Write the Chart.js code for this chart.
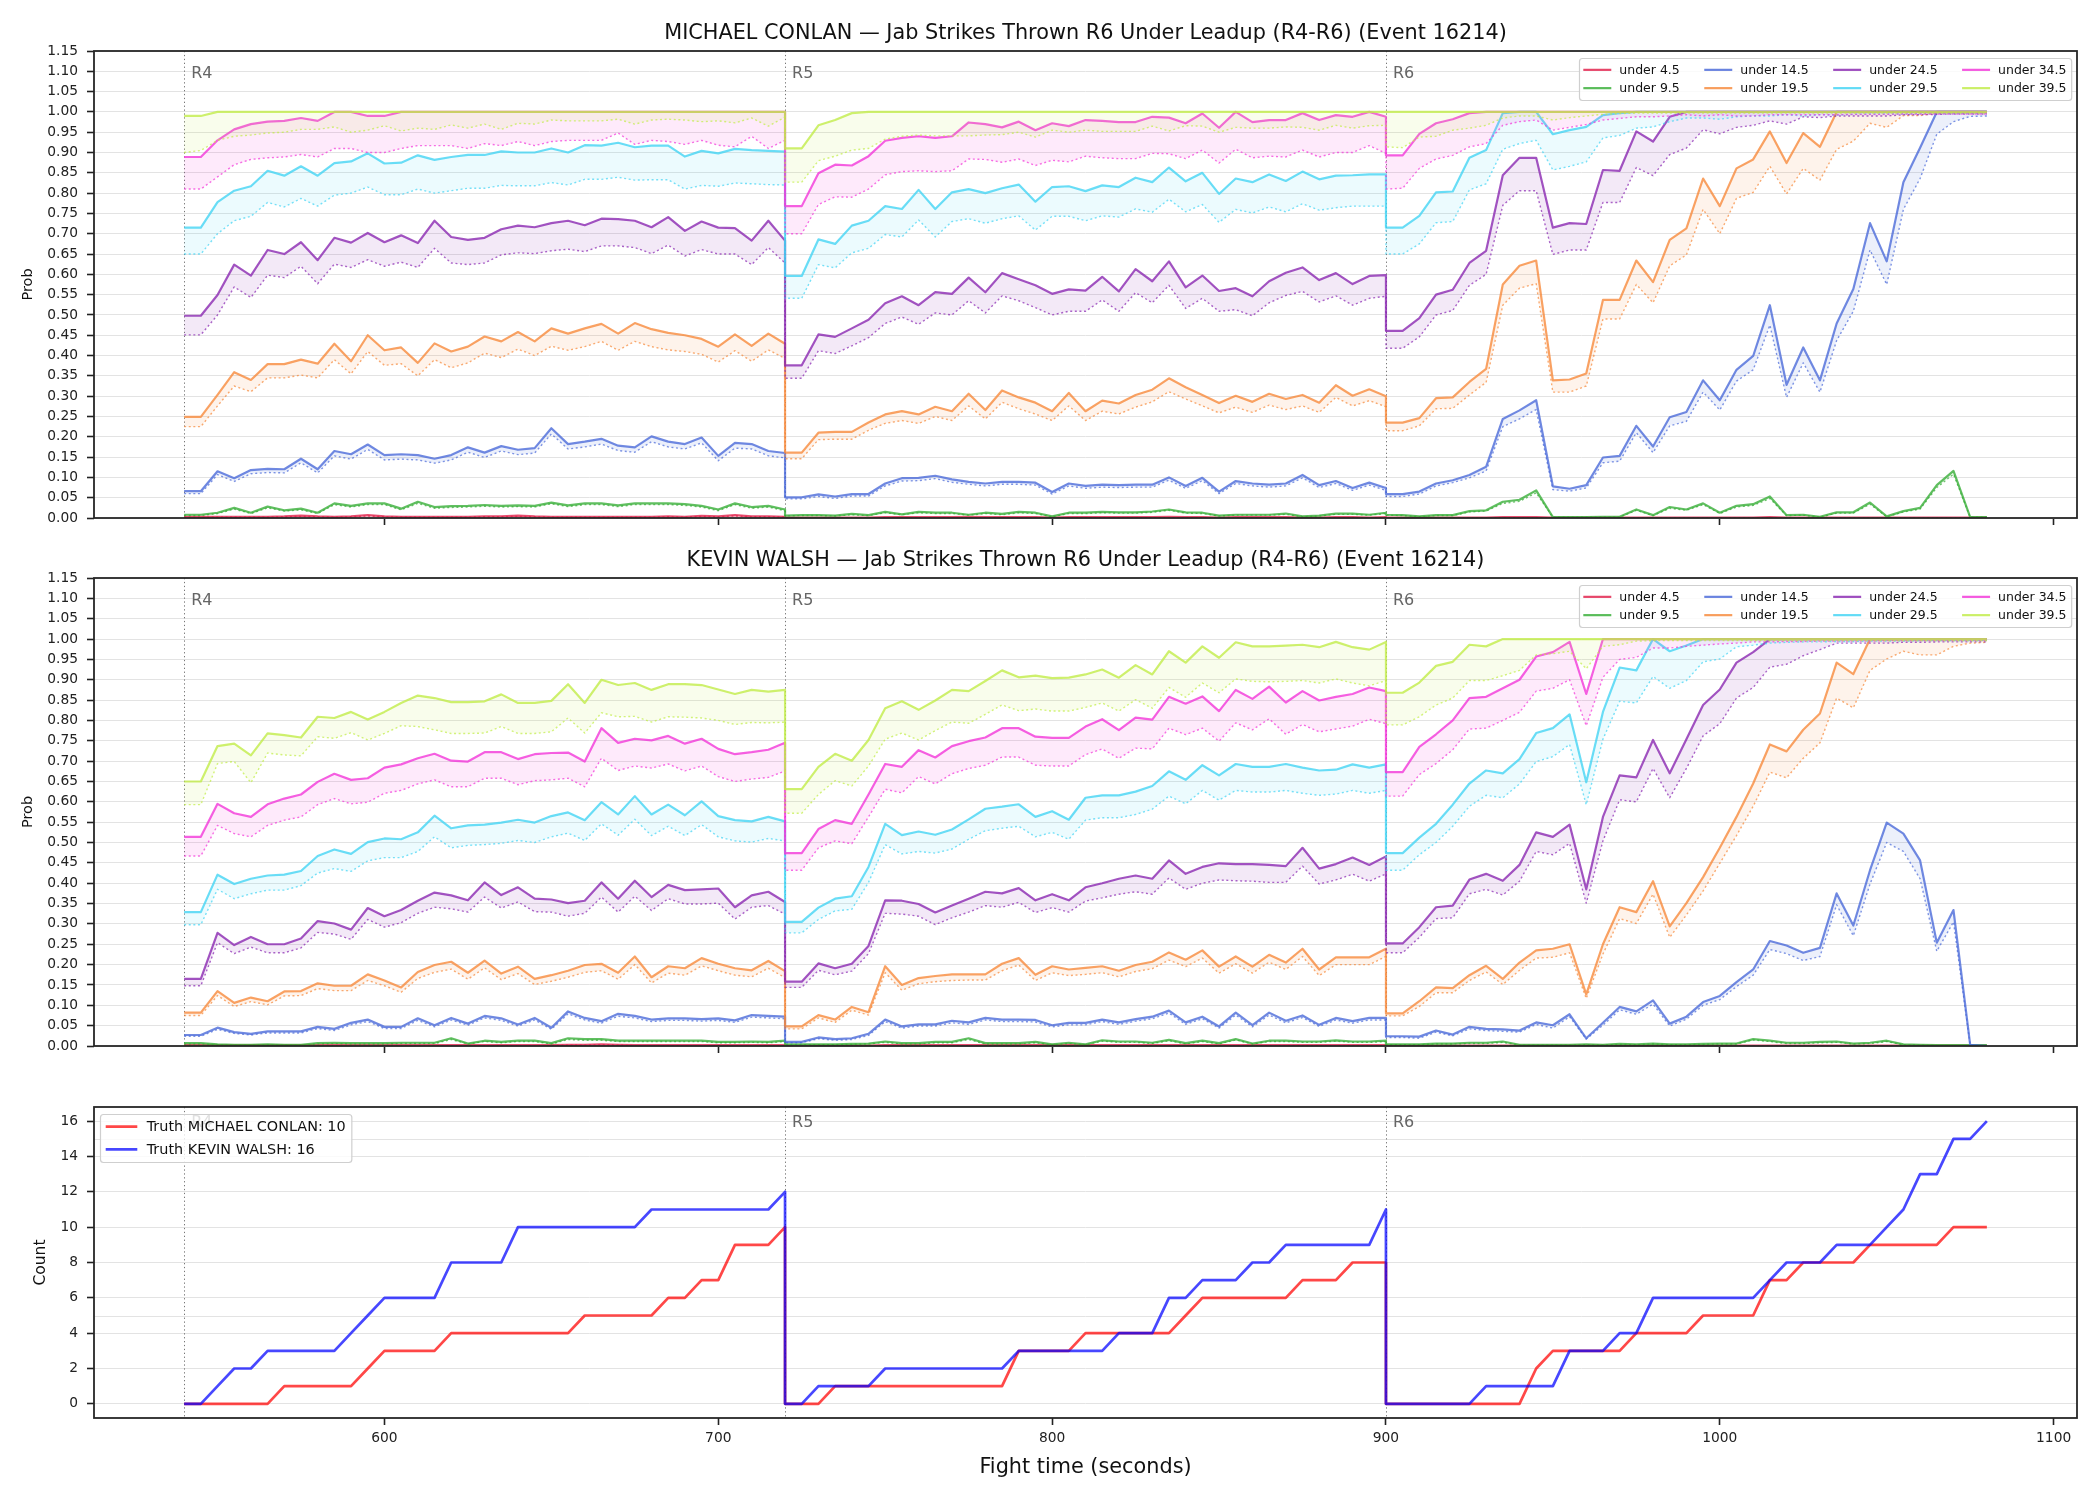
<!DOCTYPE html>
<html>
<head>
<meta charset="utf-8">
<script src="https://cdn.jsdelivr.net/npm/chart.js@4.4.1/dist/chart.umd.min.js"></script>
<style>
  html, body { margin: 0; padding: 0; background: #fff; }
  #wrap { position: relative; width: 2100px; height: 1500px; }
  canvas { position: absolute; left: 0; }
</style>
</head>
<body>
<div id="wrap">
  <canvas id="mcChart" width="2100" height="540" style="top:0px"></canvas>
  <canvas id="kwChart" width="2100" height="530" style="top:540px"></canvas>
  <canvas id="countChart" width="2100" height="430" style="top:1070px"></canvas>
</div>
<script>
// ---- data ----
const fighters = ['MICHAEL CONLAN', 'KEVIN WALSH'];
const market = 'Jab Strikes Thrown R6 Under Leadup (R4-R6) (Event 16214)';
const roundStarts = [540, 720, 900];
const roundNames = ['R4', 'R5', 'R6'];
const sampleOffsets = [0, 5, 10, 15, 20, 25, 30, 35, 40, 45, 50, 55, 60, 65, 70, 75, 80, 85, 90, 95, 100,
  105, 110, 115, 120, 125, 130, 135, 140, 145, 150, 155, 160, 165, 170, 175, 180];
const thresholds = ['under 4.5', 'under 9.5', 'under 14.5', 'under 19.5', 'under 24.5', 'under 29.5', 'under 34.5', 'under 39.5'];
const thresholdColors = ['#e11d48', '#34ad34', '#4868d8', '#f78838', '#8824b0', '#40d3f4', '#f233d8', '#c0ec45'];

const xTicks = [600, 700, 800, 900, 1000, 1100];
const probTicks = [0, 0.05, 0.1, 0.15, 0.2, 0.25, 0.3, 0.35, 0.4, 0.45, 0.5, 0.55, 0.6, 0.65, 0.7, 0.75, 0.8, 0.85, 0.9, 0.95, 1, 1.05, 1.1, 1.15];
const countTicks = [0, 2, 4, 6, 8, 10, 12, 14, 16];
const countGuides = [5, 15];

// MICHAEL CONLAN: probability (solid) and lower band (dotted), rounds R4 / R5 / R6
const mcU4 = [
  .003,.003,.003,.003,.003,.003,.004,.006,.004,.003,.004,.007,.004,.003,.003,.003,.003,.003,.004,.004,.006,.004,.003,.003,.003,.003,.003,.003,.003,.004,.003,.005,.004,.007,.004,.004,.003,
  .001,.001,.001,.001,.001,.001,.002,.002,.002,.002,.002,.003,.002,.002,.002,.002,.001,.002,.002,.002,.002,.002,.002,.003,.002,.002,.001,.002,.002,.002,.002,.001,.001,.002,.002,.001,.002,
  .001,.001,.001,.001,.001,.001,.001,.002,.002,.002,.001,.001,.001,.001,.001,.001,.001,.001,.001,.001,.001,.001,.001,.002,.001,.001,.001,.001,.001,.001,.001,.001,.001,.001,.001,.001,.001];
const mcU4lo = [
  .002,.002,.002,.002,.002,.002,.003,.004,.003,.002,.003,.005,.003,.002,.002,.002,.002,.002,.003,.003,.004,.003,.002,.002,.002,.002,.002,.002,.002,.003,.002,.004,.003,.005,.003,.003,.002,
  .001,.001,.001,.001,.001,.001,.001,.001,.001,.001,.001,.001,.001,.001,.001,.001,.001,.001,.001,.001,.001,.001,.001,.001,.001,.001,.001,.001,.001,.001,.001,.001,.001,.001,.001,.001,.001,
  .001,.001,.001,.001,.001,.001,.001,.001,.001,.001,.001,.001,.001,.001,.001,.001,.001,.001,.001,.001,.001,.001,.001,.001,.001,.001,.001,.001,.001,.001,.001,.001,.001,.001,.001,.001,.001];
const mcU9 = [
  .008,.008,.013,.025,.013,.028,.019,.023,.013,.036,.030,.036,.036,.023,.040,.027,.029,.030,.032,.030,.031,.030,.038,.031,.036,.036,.031,.036,.036,.036,.034,.030,.021,.036,.027,.030,.021,
  .006,.007,.007,.006,.010,.007,.015,.009,.015,.013,.013,.008,.013,.010,.015,.013,.004,.013,.013,.015,.014,.014,.016,.021,.014,.013,.006,.008,.008,.008,.011,.004,.006,.011,.011,.008,.013,
  .008,.007,.004,.007,.007,.017,.019,.040,.045,.068,.002,.002,.002,.003,.003,.021,.007,.027,.021,.036,.013,.030,.034,.053,.007,.008,.003,.014,.014,.038,.004,.017,.025,.081,.116,.002,.002];
const mcU9lo = [
  .006,.006,.011,.022,.011,.025,.017,.020,.011,.033,.027,.033,.033,.020,.036,.024,.026,.027,.029,.027,.028,.027,.035,.028,.033,.033,.028,.033,.033,.033,.031,.027,.018,.033,.024,.027,.018,
  .005,.006,.006,.005,.008,.006,.013,.008,.013,.011,.011,.007,.011,.008,.013,.011,.003,.011,.011,.013,.012,.012,.014,.019,.012,.011,.005,.007,.007,.007,.009,.003,.005,.009,.009,.007,.011,
  .007,.006,.003,.006,.006,.015,.017,.036,.041,.062,.002,.002,.002,.002,.002,.019,.006,.024,.019,.033,.011,.027,.031,.048,.006,.007,.002,.012,.012,.034,.003,.015,.022,.075,.108,.002,.002];
const mcU14 = [
  .066,.066,.115,.098,.118,.121,.120,.146,.120,.165,.157,.181,.155,.157,.155,.146,.155,.174,.161,.177,.168,.172,.221,.182,.188,.195,.178,.174,.201,.188,.182,.198,.153,.185,.182,.165,.160,
  .051,.051,.058,.053,.059,.059,.085,.098,.099,.104,.095,.089,.085,.089,.089,.087,.064,.085,.079,.082,.081,.082,.082,.100,.079,.099,.065,.091,.085,.082,.085,.106,.081,.091,.074,.087,.074,
  .059,.059,.065,.085,.093,.106,.126,.244,.265,.290,.078,.072,.081,.149,.153,.227,.176,.248,.261,.339,.290,.365,.399,.524,.328,.420,.339,.479,.564,.726,.632,.827,.912,1,1,1,1];
const mcU14lo = [
  .060,.060,.107,.090,.109,.112,.111,.136,.111,.153,.145,.169,.143,.145,.143,.135,.143,.162,.149,.165,.156,.160,.207,.170,.175,.182,.166,.162,.188,.175,.170,.185,.141,.172,.170,.153,.148,
  .047,.047,.053,.048,.054,.054,.079,.091,.092,.097,.088,.083,.079,.083,.083,.081,.059,.079,.073,.076,.075,.076,.076,.093,.073,.092,.060,.085,.079,.076,.079,.099,.075,.085,.068,.081,.068,
  .053,.053,.059,.079,.087,.099,.116,.225,.244,.267,.070,.066,.074,.136,.140,.210,.161,.227,.238,.310,.266,.337,.365,.475,.297,.382,.310,.437,.509,.660,.575,.760,.836,.945,.976,.989,.990];
const mcU19 = [
  .249,.249,.303,.359,.340,.379,.379,.390,.380,.429,.386,.450,.413,.420,.382,.430,.410,.422,.447,.435,.458,.435,.467,.454,.467,.478,.454,.480,.465,.456,.450,.441,.422,.452,.424,.454,.429,
  .161,.161,.210,.212,.212,.235,.255,.263,.255,.274,.263,.306,.266,.314,.297,.284,.263,.308,.263,.289,.282,.303,.316,.344,.322,.303,.283,.301,.286,.306,.293,.303,.284,.327,.301,.317,.300,
  .235,.235,.246,.295,.297,.335,.367,.575,.621,.634,.339,.341,.356,.537,.537,.634,.581,.685,.713,.836,.768,.861,.883,.952,.874,.948,.914,1,1,1,1,1,1,1,1,1,1];
const mcU19lo = [
  .225,.225,.276,.325,.311,.345,.345,.352,.345,.390,.355,.410,.376,.380,.350,.390,.370,.382,.406,.395,.416,.400,.423,.413,.422,.435,.413,.435,.422,.414,.410,.403,.384,.412,.386,.414,.393,
  .146,.146,.193,.194,.194,.216,.233,.240,.233,.250,.240,.276,.244,.285,.269,.256,.240,.276,.240,.263,.256,.273,.286,.311,.293,.276,.259,.273,.260,.278,.267,.276,.260,.297,.276,.289,.274,
  .215,.215,.227,.269,.270,.303,.334,.524,.566,.577,.310,.310,.325,.490,.490,.575,.530,.621,.648,.760,.700,.787,.802,.866,.798,.861,.832,.908,.928,.972,.962,.991,.991,.997,.998,.998,.998];
const mcU24 = [
  .498,.498,.549,.624,.597,.660,.650,.679,.635,.690,.678,.702,.679,.696,.677,.732,.692,.685,.690,.711,.720,.716,.726,.732,.721,.737,.736,.732,.716,.741,.707,.730,.715,.714,.683,.732,.683,
  .376,.376,.452,.446,.467,.488,.529,.546,.524,.556,.552,.592,.556,.603,.588,.573,.552,.563,.560,.594,.558,.613,.583,.632,.568,.597,.559,.566,.546,.583,.604,.617,.586,.603,.576,.596,.598,
  .461,.461,.492,.550,.562,.628,.658,.844,.887,.887,.715,.726,.724,.857,.855,.952,.927,.988,1,1,1,1,1,1,1,1,1,1,1,1,1,1,1,1,1,1,1];
const mcU24lo = [
  .451,.451,.500,.569,.543,.598,.592,.620,.577,.625,.617,.636,.620,.630,.617,.664,.628,.624,.628,.648,.653,.651,.658,.662,.656,.670,.670,.666,.651,.672,.645,.661,.650,.650,.624,.666,.628,
  .344,.344,.412,.405,.424,.444,.479,.495,.477,.505,.500,.535,.505,.547,.535,.518,.500,.509,.509,.537,.509,.555,.530,.573,.516,.541,.509,.513,.498,.530,.548,.558,.532,.547,.524,.541,.546,
  .418,.418,.446,.500,.511,.573,.600,.770,.806,.806,.649,.660,.660,.777,.777,.863,.843,.895,.911,.956,.946,.962,.967,.978,.970,.988,.986,.990,.990,.990,.990,.993,.993,.994,.995,.995,.995];
const mcU29 = [
  .715,.715,.778,.806,.817,.855,.843,.866,.843,.874,.878,.898,.873,.875,.893,.882,.889,.894,.894,.903,.900,.900,.910,.900,.918,.917,.924,.913,.917,.917,.890,.904,.898,.909,.906,.904,.902,
  .596,.596,.686,.675,.720,.732,.768,.761,.808,.761,.802,.810,.800,.812,.821,.779,.815,.817,.805,.819,.815,.838,.827,.863,.829,.850,.798,.836,.827,.846,.830,.853,.834,.843,.844,.846,.846,
  .715,.715,.744,.802,.804,.887,.906,.997,1,1,.945,.955,.963,.992,.997,1,1,1,1,1,1,1,1,1,1,1,1,1,1,1,1,1,1,1,1,1,1];
const mcU29lo = [
  .650,.650,.700,.732,.743,.777,.766,.787,.768,.795,.800,.815,.796,.796,.810,.800,.806,.812,.812,.819,.818,.818,.826,.820,.834,.834,.839,.832,.833,.833,.810,.819,.817,.825,.823,.821,.820,
  .541,.541,.624,.616,.653,.664,.698,.692,.734,.692,.730,.737,.726,.737,.744,.709,.743,.743,.732,.744,.741,.761,.753,.785,.754,.772,.728,.760,.751,.766,.754,.774,.758,.764,.768,.768,.768,
  .650,.650,.675,.727,.730,.808,.823,.908,.922,.930,.857,.866,.877,.936,.942,.960,.963,.976,.985,.985,.982,.988,.990,.990,.993,.990,.993,.992,.994,.995,.995,.995,.996,.996,.996,.997,.997];
const mcU34 = [
  .889,.889,.930,.957,.970,.976,.978,.985,.978,1,1,.990,.990,1,1,1,1,1,1,1,1,1,1,1,1,1,1,1,1,1,1,1,1,1,1,1,1,
  .768,.768,.849,.870,.868,.891,.929,.936,.940,.936,.940,.974,.970,.962,.976,.955,.972,.965,.980,.978,.975,.975,.988,.986,.972,.996,.961,1,.975,.980,.980,.997,.980,.992,.988,1,.988,
  .893,.893,.946,.972,.982,.997,1,1,1,1,1,1,1,1,1,1,1,1,1,1,1,1,1,1,1,1,1,1,1,1,1,1,1,1,1,1,1];
const mcU34lo = [
  .810,.810,.840,.870,.883,.887,.889,.895,.889,.910,.910,.900,.900,.910,.917,.917,.917,.910,.922,.917,.927,.917,.927,.930,.930,.930,.948,.920,.930,.927,.920,.930,.918,.914,.940,.910,.930,
  .700,.700,.772,.791,.790,.810,.845,.853,.855,.853,.855,.884,.883,.876,.884,.868,.881,.877,.891,.887,.885,.885,.898,.897,.885,.906,.874,.908,.887,.891,.889,.906,.889,.900,.900,.917,.898,
  .810,.812,.861,.884,.893,.914,.922,.967,.976,.980,.955,.962,.969,.980,.984,.988,.988,.990,.993,.990,.993,.990,.990,.993,.993,.993,.993,.993,.994,.994,.994,.995,.995,.995,.995,.995,.995];
const mcU39 = [
  .990,.990,1,1,1,1,1,1,1,1,1,1,1,1,1,1,1,1,1,1,1,1,1,1,1,1,1,1,1,1,1,1,1,1,1,1,1,
  .910,.910,.967,.980,.997,1,1,1,1,1,1,1,1,1,1,1,1,1,1,1,1,1,1,1,1,1,1,1,1,1,1,1,1,1,1,1,1,
  1,1,1,1,1,1,1,1,1,1,1,1,1,1,1,1,1,1,1,1,1,1,1,1,1,1,1,1,1,1,1,1,1,1,1,1,1];
const mcU39lo = [
  .900,.905,.930,.940,.943,.948,.950,.957,.957,.963,.950,.955,.966,.953,.960,.957,.968,.960,.970,.957,.972,.970,.980,.978,.978,.978,.982,.970,.980,.982,.980,.976,.978,.973,.985,.965,.987,
  .827,.827,.880,.891,.906,.910,.933,.940,.943,.941,.941,.941,.943,.944,.950,.938,.955,.950,.955,.952,.952,.952,.965,.953,.966,.965,.950,.962,.960,.960,.963,.962,.955,.967,.960,.966,.967,
  .914,.912,.938,.940,.955,.960,.967,.985,.990,.990,.980,.986,.990,.994,.996,.997,.997,.997,.997,.997,.997,.997,.997,.997,.997,.997,.997,.997,.997,.997,.997,.997,.997,.997,.997,.997,.997];

// KEVIN WALSH
const kwU4 = [
  .002,.002,.002,.002,.002,.002,.002,.002,.002,.002,.002,.002,.002,.002,.002,.002,.002,.002,.002,.002,.002,.002,.002,.003,.003,.004,.003,.002,.002,.002,.002,.002,.002,.002,.002,.002,.002,
  .001,.001,.001,.001,.001,.001,.002,.002,.002,.002,.002,.002,.002,.002,.002,.002,.002,.002,.002,.002,.002,.002,.002,.002,.002,.002,.002,.002,.002,.002,.002,.002,.002,.002,.002,.002,.002,
  .001,.001,.001,.001,.001,.001,.001,.001,.001,.001,.001,.001,.001,.001,.001,.001,.001,.001,.001,.001,.001,.001,.001,.001,.001,.001,.001,.001,.001,.001,.001,.001,.001,.001,.001,.001,.001];
const kwU4lo = [
  .001,.001,.001,.001,.001,.001,.001,.001,.001,.001,.001,.001,.001,.001,.001,.001,.001,.001,.001,.001,.001,.001,.001,.002,.002,.003,.002,.001,.001,.001,.001,.001,.001,.001,.001,.001,.001,
  .001,.001,.001,.001,.001,.001,.001,.001,.001,.001,.001,.001,.001,.001,.001,.001,.001,.001,.001,.001,.001,.001,.001,.001,.001,.001,.001,.001,.001,.001,.001,.001,.001,.001,.001,.001,.001,
  .001,.001,.001,.001,.001,.001,.001,.001,.001,.001,.001,.001,.001,.001,.001,.001,.001,.001,.001,.001,.001,.001,.001,.001,.001,.001,.001,.001,.001,.001,.001,.001,.001,.001,.001,.001,.001];
const kwU9 = [
  .007,.007,.004,.003,.003,.004,.003,.003,.007,.008,.007,.007,.007,.008,.008,.008,.019,.006,.013,.010,.013,.013,.007,.019,.017,.017,.013,.013,.013,.013,.013,.013,.010,.010,.011,.010,.013,
  .004,.004,.004,.004,.005,.006,.011,.007,.007,.010,.010,.019,.007,.007,.007,.010,.004,.008,.004,.014,.011,.011,.008,.015,.007,.013,.007,.017,.006,.013,.013,.011,.011,.014,.011,.011,.013,
  .004,.004,.004,.006,.006,.008,.008,.011,.003,.003,.003,.003,.004,.003,.005,.004,.006,.004,.004,.005,.006,.006,.017,.013,.008,.008,.010,.011,.006,.008,.013,.004,.003,.002,.002,.002,.002];
const kwU9lo = [
  .005,.005,.003,.002,.002,.003,.002,.002,.005,.006,.005,.005,.005,.006,.006,.006,.016,.005,.011,.008,.011,.011,.005,.016,.014,.014,.011,.011,.011,.011,.011,.011,.008,.008,.009,.008,.011,
  .003,.003,.003,.003,.004,.005,.009,.005,.005,.008,.008,.016,.005,.005,.005,.008,.003,.006,.003,.012,.009,.009,.006,.013,.005,.011,.005,.015,.005,.011,.011,.009,.009,.012,.009,.009,.011,
  .003,.003,.003,.005,.005,.006,.006,.009,.002,.002,.002,.002,.003,.002,.004,.003,.005,.003,.003,.004,.005,.005,.015,.011,.006,.006,.008,.009,.005,.006,.011,.003,.002,.001,.001,.001,.001];
const kwU14 = [
  .027,.027,.045,.034,.030,.036,.036,.036,.047,.042,.057,.065,.047,.047,.068,.051,.069,.055,.074,.068,.053,.069,.045,.085,.069,.061,.079,.074,.065,.068,.068,.066,.068,.063,.076,.074,.072,
  .010,.010,.021,.017,.019,.030,.065,.048,.053,.053,.062,.058,.069,.065,.065,.064,.051,.057,.057,.065,.058,.066,.072,.087,.058,.072,.048,.082,.051,.082,.062,.075,.052,.069,.061,.069,.069,
  .024,.024,.023,.038,.028,.047,.042,.041,.038,.058,.051,.078,.019,.057,.096,.085,.112,.055,.072,.108,.123,.157,.188,.258,.247,.229,.241,.375,.296,.432,.549,.522,.456,.254,.334,.003,0];
const kwU14lo = [
  .024,.024,.041,.031,.027,.032,.032,.032,.043,.038,.052,.060,.043,.043,.063,.047,.064,.051,.069,.063,.049,.064,.041,.079,.064,.056,.073,.069,.060,.063,.063,.061,.063,.058,.071,.069,.067,
  .008,.008,.018,.014,.016,.026,.060,.044,.049,.049,.057,.053,.064,.060,.060,.059,.047,.052,.052,.060,.053,.061,.067,.081,.053,.067,.044,.076,.047,.076,.057,.070,.048,.064,.056,.064,.064,
  .021,.021,.019,.034,.025,.042,.038,.036,.034,.053,.044,.072,.017,.051,.089,.078,.103,.049,.066,.100,.114,.146,.174,.237,.227,.210,.220,.347,.271,.398,.500,.478,.411,.233,.305,.002,0];
const kwU19 = [
  .082,.082,.135,.106,.119,.110,.134,.135,.154,.148,.148,.176,.161,.144,.182,.199,.207,.180,.210,.178,.195,.165,.174,.185,.199,.202,.180,.220,.169,.196,.191,.216,.202,.191,.186,.209,.184,
  .048,.048,.076,.065,.096,.083,.196,.150,.167,.172,.176,.176,.176,.202,.216,.175,.196,.188,.192,.196,.185,.199,.207,.230,.212,.235,.195,.220,.195,.224,.205,.239,.188,.218,.218,.218,.239,
  .080,.080,.110,.144,.142,.174,.197,.165,.205,.235,.239,.250,.127,.250,.341,.329,.405,.294,.351,.415,.487,.563,.645,.741,.724,.777,.817,.942,.914,1,1,1,1,1,1,1,1];
const kwU19lo = [
  .075,.075,.124,.097,.109,.101,.123,.124,.141,.136,.136,.161,.148,.132,.166,.181,.189,.164,.192,.163,.178,.151,.159,.169,.181,.185,.164,.200,.155,.179,.174,.197,.185,.174,.170,.191,.168,
  .042,.042,.069,.058,.088,.076,.180,.137,.153,.158,.161,.162,.162,.185,.199,.161,.180,.173,.176,.180,.170,.183,.190,.211,.195,.216,.179,.202,.179,.206,.188,.220,.173,.200,.200,.200,.220,
  .074,.074,.097,.131,.131,.161,.182,.151,.186,.216,.218,.229,.117,.226,.313,.301,.373,.267,.322,.381,.449,.517,.589,.673,.659,.707,.745,.855,.831,.923,.951,.970,.961,.961,.982,.990,.992];
const kwU24 = [
  .165,.165,.278,.248,.268,.250,.250,.264,.307,.301,.286,.339,.319,.334,.357,.377,.370,.358,.402,.371,.390,.362,.360,.351,.357,.402,.362,.406,.366,.396,.383,.385,.387,.341,.370,.379,.354,
  .158,.158,.203,.191,.202,.246,.358,.357,.349,.328,.345,.362,.379,.375,.388,.358,.373,.358,.390,.400,.411,.419,.411,.456,.423,.440,.449,.447,.447,.445,.442,.487,.436,.447,.463,.445,.466,
  .252,.252,.292,.341,.345,.409,.423,.406,.445,.525,.514,.544,.385,.563,.665,.660,.752,.670,.754,.838,.876,.942,.968,1,1,1,1,1,1,1,1,1,1,1,1,1,1];
const kwU24lo = [
  .148,.148,.254,.227,.243,.229,.229,.241,.279,.275,.262,.311,.292,.303,.326,.341,.337,.329,.366,.339,.354,.330,.329,.319,.326,.366,.329,.368,.333,.362,.349,.349,.351,.312,.341,.345,.324,
  .144,.144,.186,.175,.184,.227,.326,.324,.319,.298,.315,.329,.345,.341,.353,.328,.340,.329,.356,.364,.373,.379,.373,.413,.385,.400,.408,.406,.405,.402,.402,.442,.398,.408,.422,.405,.423,
  .229,.229,.267,.313,.315,.374,.385,.371,.405,.478,.470,.498,.351,.504,.605,.600,.682,.610,.682,.762,.792,.855,.881,.931,.938,.959,.974,.990,.990,.990,.990,.992,.992,.993,.993,.993,.993];
const kwU29 = [
  .329,.329,.421,.398,.411,.419,.421,.430,.467,.483,.472,.501,.510,.508,.525,.566,.535,.542,.544,.549,.556,.549,.565,.574,.555,.599,.569,.614,.569,.593,.567,.601,.565,.555,.552,.563,.552,
  .305,.305,.340,.362,.368,.440,.546,.518,.527,.519,.532,.557,.583,.588,.594,.563,.577,.556,.610,.616,.616,.625,.639,.675,.654,.690,.665,.693,.686,.686,.693,.684,.677,.679,.692,.684,.692,
  .474,.474,.512,.546,.593,.645,.677,.670,.705,.769,.781,.815,.648,.821,.930,.923,1,.970,.984,1,1,1,1,1,1,1,1,1,1,1,1,1,1,1,1,1,1];
const kwU29lo = [
  .298,.298,.385,.362,.374,.383,.383,.394,.425,.436,.429,.455,.463,.463,.478,.514,.487,.493,.495,.498,.505,.500,.514,.523,.505,.546,.518,.557,.517,.540,.517,.544,.514,.504,.501,.510,.504,
  .278,.278,.311,.332,.336,.402,.495,.472,.478,.474,.484,.508,.529,.535,.540,.514,.525,.508,.555,.561,.561,.569,.582,.614,.595,.628,.604,.628,.624,.624,.628,.621,.616,.619,.628,.621,.628,
  .432,.432,.470,.500,.540,.589,.616,.610,.644,.699,.711,.741,.593,.754,.847,.843,.908,.879,.898,.944,.951,.981,.985,.990,.992,.993,.993,.994,.994,.995,.995,.995,.996,.996,.996,.996,.997];
const kwU34 = [
  .514,.514,.595,.572,.563,.594,.608,.618,.649,.669,.654,.658,.684,.692,.707,.718,.701,.699,.722,.722,.705,.717,.720,.721,.699,.781,.745,.755,.751,.762,.743,.755,.730,.717,.722,.728,.745,
  .474,.474,.533,.555,.546,.618,.693,.686,.727,.709,.737,.749,.758,.781,.781,.760,.757,.757,.785,.803,.776,.807,.802,.858,.841,.859,.823,.875,.853,.883,.844,.872,.849,.858,.865,.881,.872,
  .673,.673,.735,.766,.800,.855,.858,.879,.900,.957,.968,.993,.865,1,1,1,1,1,1,1,1,1,1,1,1,1,1,1,1,1,1,1,1,1,1,1,1];
const kwU34lo = [
  .467,.467,.542,.522,.514,.542,.555,.563,.593,.608,.595,.599,.621,.628,.644,.654,.637,.637,.658,.658,.642,.652,.654,.658,.637,.707,.677,.688,.683,.693,.676,.688,.662,.650,.656,.660,.676,
  .432,.432,.487,.504,.497,.563,.631,.622,.662,.644,.669,.682,.690,.710,.710,.690,.688,.688,.716,.730,.707,.732,.730,.781,.765,.781,.749,.794,.777,.804,.766,.790,.772,.779,.786,.803,.792,
  .614,.614,.667,.694,.728,.779,.781,.800,.820,.872,.879,.900,.787,.906,.950,.955,.978,.978,.982,.985,.988,.990,.993,.993,.994,.994,.995,.995,.995,.995,.996,.996,.996,.996,.997,.997,.997];
const kwU39 = [
  .650,.650,.737,.743,.714,.768,.764,.758,.809,.806,.821,.802,.821,.843,.861,.855,.845,.845,.847,.864,.843,.843,.848,.889,.843,.900,.887,.892,.875,.889,.889,.887,.876,.865,.875,.871,.875,
  .631,.631,.686,.718,.701,.752,.830,.847,.826,.849,.875,.872,.897,.923,.906,.910,.904,.905,.913,.925,.905,.936,.913,.970,.942,.982,.954,.992,.982,.982,.984,.986,.980,.993,.980,.974,.993,
  .868,.868,.893,.934,.944,.986,.982,1,1,1,1,1,1,1,1,1,1,1,1,1,1,1,1,1,1,1,1,1,1,1,1,1,1,1,1,1,1];
const kwU39lo = [
  .593,.593,.694,.699,.647,.720,.715,.713,.760,.756,.770,.752,.768,.787,.785,.777,.768,.768,.769,.785,.768,.768,.772,.806,.769,.819,.809,.810,.796,.809,.808,.806,.800,.790,.795,.794,.796,
  .572,.572,.618,.652,.639,.688,.754,.769,.752,.775,.796,.793,.815,.838,.824,.828,.823,.823,.832,.843,.823,.851,.830,.881,.857,.892,.868,.902,.896,.895,.896,.898,.892,.902,.892,.885,.898,
  .789,.789,.809,.838,.855,.898,.898,.910,.923,.961,.964,.970,.927,.982,.986,.995,.996,.996,.996,.996,.996,.996,.996,.996,.996,.996,.996,.996,.996,.996,.996,.996,.996,.996,.996,.996,.996];

// truth counts (cumulative per round)
const mcCount = [
  0,0,0,0,0,0,1,1,1,1,1,2,3,3,3,3,4,4,4,4,4,4,4,4,5,5,5,5,5,6,6,7,7,9,9,9,10,
  0,0,0,1,1,1,1,1,1,1,1,1,1,1,3,3,3,3,4,4,4,4,4,4,5,6,6,6,6,6,6,7,7,7,8,8,8,
  0,0,0,0,0,0,0,0,0,2,3,3,3,3,3,4,4,4,4,5,5,5,5,7,7,8,8,8,8,9,9,9,9,9,10,10,10];
const kwCount = [
  0,0,1,2,2,3,3,3,3,3,4,5,6,6,6,6,8,8,8,8,10,10,10,10,10,10,10,10,11,11,11,11,11,11,11,11,12,
  0,0,1,1,1,1,2,2,2,2,2,2,2,2,3,3,3,3,3,3,4,4,4,6,6,7,7,7,8,8,9,9,9,9,9,9,11,
  0,0,0,0,0,0,1,1,1,1,1,3,3,3,4,4,6,6,6,6,6,6,6,7,8,8,8,9,9,9,10,11,13,13,15,15,16];

const mcSolid = [mcU4, mcU9, mcU14, mcU19, mcU24, mcU29, mcU34, mcU39];
const mcLower = [mcU4lo, mcU9lo, mcU14lo, mcU19lo, mcU24lo, mcU29lo, mcU34lo, mcU39lo];
const kwSolid = [kwU4, kwU9, kwU14, kwU19, kwU24, kwU29, kwU34, kwU39];
const kwLower = [kwU4lo, kwU9lo, kwU14lo, kwU19lo, kwU24lo, kwU29lo, kwU34lo, kwU39lo];

// ---- helpers ----
const times = roundStarts.flatMap(s => sampleOffsets.map(o => s + o));
const pts = vals => vals.map((v, i) => ({ x: times[i], y: v }));
const FONT = '"DejaVu Sans", sans-serif';

function rgba(hex, a) {
  const n = parseInt(hex.slice(1), 16);
  return `rgba(${n >> 16}, ${(n >> 8) & 255}, ${n & 255}, ${a})`;
}

function drawLegend(ctx, a, L) {
  ctx.font = `${L.size}px ${FONT}`;
  const cols = [];
  for (let i = 0; i < L.items.length; i += L.rows) cols.push(L.items.slice(i, i + L.rows));
  const widths = cols.map(c => Math.max(...c.map(it => ctx.measureText(it.text).width)));
  const w = 2 * L.padX + widths.reduce((s, cw) => s + L.handle + L.gap + cw, 0) + L.colGap * (cols.length - 1);
  const h = 2 * L.padY + L.rows * L.rowH;
  const left = L.side === 'right' ? a.right - 6 - w : a.left + 6;
  const top = a.top + 7;
  ctx.beginPath();
  ctx.roundRect(Math.round(left) + 0.5, Math.round(top) + 0.5, w, h, 3);
  ctx.fillStyle = 'rgba(255,255,255,0.8)';
  ctx.fill();
  ctx.strokeStyle = '#cfcfcf';
  ctx.lineWidth = 1.2;
  ctx.stroke();
  ctx.textAlign = 'left';
  ctx.textBaseline = 'middle';
  let cx = left + L.padX;
  cols.forEach((c, j) => {
    c.forEach((it, r) => {
      const cy = top + L.padY + L.rowH * (r + 0.5);
      ctx.strokeStyle = it.color;
      ctx.lineWidth = L.lineW;
      ctx.beginPath();
      ctx.moveTo(cx, cy);
      ctx.lineTo(cx + L.handle, cy);
      ctx.stroke();
      ctx.fillStyle = '#111';
      ctx.fillText(it.text, cx + L.handle + L.gap, cy + 0.5);
    });
    cx += L.handle + L.gap + widths[j] + L.colGap;
  });
}

// round markers, labels, frame, titles and legends
const decor = {
  id: 'decor',
  beforeDatasetsDraw(chart, args, o) {
    const { ctx, chartArea: a, scales: { x, y } } = chart;
    ctx.save();
    ctx.strokeStyle = '#e3e3e3';
    ctx.lineWidth = 1;
    (o.guides || []).forEach(v => {
      const py = Math.round(y.getPixelForValue(v)) + 0.5;
      ctx.beginPath(); ctx.moveTo(a.left, py); ctx.lineTo(a.right, py); ctx.stroke();
    });
    ctx.strokeStyle = '#777';
    ctx.setLineDash([1.3, 2.6]);
    roundStarts.forEach(t => {
      const px = Math.round(x.getPixelForValue(t)) + 0.5;
      ctx.beginPath(); ctx.moveTo(px, a.top); ctx.lineTo(px, a.bottom); ctx.stroke();
    });
    ctx.setLineDash([]);
    ctx.fillStyle = '#666';
    ctx.font = `16px ${FONT}`;
    ctx.textAlign = 'left';
    ctx.textBaseline = 'middle';
    roundStarts.forEach((t, i) => ctx.fillText(roundNames[i], x.getPixelForValue(t) + 7, a.top + o.labelDy));
    ctx.restore();
  },
  afterDraw(chart, args, o) {
    const { ctx, chartArea: a } = chart;
    ctx.save();
    ctx.strokeStyle = '#262626';
    ctx.lineWidth = 1.8;
    ctx.strokeRect(a.left, a.top, a.right - a.left, a.bottom - a.top);
    ctx.fillStyle = '#111';
    ctx.textAlign = 'center';
    ctx.textBaseline = 'middle';
    const cx = (a.left + a.right) / 2;
    if (o.title) {
      ctx.font = `20.8px ${FONT}`;
      ctx.fillText(o.title, cx, a.top - 17);
    }
    if (o.xLabel) {
      ctx.font = `20.8px ${FONT}`;
      ctx.fillText(o.xLabel, cx, o.xLabelY);
    }
    ctx.save();
    ctx.translate(o.yLabelX, (a.top + a.bottom) / 2);
    ctx.rotate(-Math.PI / 2);
    ctx.font = `${o.yLabelSize}px ${FONT}`;
    ctx.fillText(o.yLabel, 0, 0);
    ctx.restore();
    drawLegend(ctx, a, o.legend);
    ctx.restore();
  }
};
Chart.register(decor);

function xScale(height, showLabels) {
  return {
    type: 'linear',
    min: 513,
    max: 1107,
    afterBuildTicks: s => { s.ticks = xTicks.map(v => ({ value: v })); },
    afterFit: s => { s.height = height; },
    border: { display: false },
    grid: { drawOnChartArea: false, drawTicks: true, tickLength: 7, tickColor: '#222', tickWidth: 1.6 },
    ticks: {
      autoSkip: false,
      maxRotation: 0,
      padding: 5,
      color: '#222',
      font: { family: FONT, size: 13.8 },
      callback: v => (showLabels ? String(v) : ''),
    },
  };
}

function yScale(min, max, tickList, fmt) {
  return {
    min,
    max,
    afterBuildTicks: s => { s.ticks = tickList.map(v => ({ value: v })); },
    afterFit: s => { s.width = 94; },
    border: { display: false },
    grid: { color: '#e3e3e3', lineWidth: 1, tickLength: 7, tickColor: '#222', tickWidth: 1.6 },
    ticks: { autoSkip: false, padding: 9, color: '#222', font: { family: FONT, size: 13.8 }, callback: fmt },
  };
}

function probChart(canvasId, fighter, solid, lower, plotTop, axisH) {
  const datasets = [];
  thresholds.forEach((name, i) => {
    datasets.push({
      label: name + ' low',
      data: pts(lower[i]),
      borderColor: rgba(thresholdColors[i], 0.7),
      borderWidth: 1.4,
      borderDash: [2, 2.6],
      fill: false,
      order: 2 * (thresholds.length - i) + 1,
    });
    datasets.push({
      label: name,
      data: pts(solid[i]),
      borderColor: rgba(thresholdColors[i], 0.78),
      borderWidth: 2.2,
      backgroundColor: rgba(thresholdColors[i], 0.1),
      fill: '-1',
      order: 2 * (thresholds.length - i),
    });
  });
  return new Chart(document.getElementById(canvasId), {
    type: 'line',
    data: { datasets },
    options: {
      responsive: false,
      animation: false,
      devicePixelRatio: 1,
      layout: { padding: { top: plotTop, right: 23, left: 0, bottom: 0 } },
      elements: { point: { radius: 0 }, line: { tension: 0, borderJoinStyle: 'round' } },
      plugins: {
        legend: { display: false },
        tooltip: { enabled: false },
        decor: {
          title: `${fighter} \u2014 ${market}`,
          yLabel: 'Prob',
          yLabelX: 28,
          yLabelSize: 14.5,
          labelDy: 23,
          legend: {
            items: thresholds.map((t, i) => ({ text: t, color: rgba(thresholdColors[i], 0.82) })),
            rows: 2, size: 12.5, padX: 4.5, padY: 2.7, rowH: 18.3,
            handle: 28, gap: 8, colGap: 24.5, lineW: 2.2, side: 'right',
          },
        },
      },
      scales: {
        x: xScale(axisH, false),
        y: yScale(0, 1.15, probTicks, v => v.toFixed(2)),
      },
    },
  });
}

probChart('mcChart', fighters[0], mcSolid, mcLower, 51, 22);
probChart('kwChart', fighters[1], kwSolid, kwLower, 38, 24);

const truthColors = ['rgba(255, 0, 0, 0.72)', 'rgba(0, 0, 255, 0.72)'];
const truthLabels = [
  `Truth ${fighters[0]}: ${mcCount[mcCount.length - 1]}`,
  `Truth ${fighters[1]}: ${kwCount[kwCount.length - 1]}`,
];

new Chart(document.getElementById('countChart'), {
  type: 'line',
  data: {
    datasets: [
      { label: truthLabels[0], data: pts(mcCount), borderColor: truthColors[0], borderWidth: 2.7, fill: false, order: 2 },
      { label: truthLabels[1], data: pts(kwCount), borderColor: truthColors[1], borderWidth: 2.7, fill: false, order: 1 },
    ],
  },
  options: {
    responsive: false,
    animation: false,
    devicePixelRatio: 1,
    layout: { padding: { top: 37, right: 23, left: 0, bottom: 0 } },
    elements: { point: { radius: 0 }, line: { tension: 0, borderJoinStyle: 'round' } },
    plugins: {
      legend: { display: false },
      tooltip: { enabled: false },
      decor: {
        yLabel: 'Count',
        yLabelX: 41,
        yLabelSize: 15.5,
        labelDy: 16,
        guides: countGuides,
        xLabel: 'Fight time (seconds)',
        xLabelY: 398,
        legend: {
          items: truthLabels.map((t, i) => ({ text: t, color: truthColors[i] })),
          rows: 2, size: 14.4, padX: 5.7, padY: 1.3, rowH: 22.7,
          handle: 31.6, gap: 9.4, colGap: 0, lineW: 2.7, side: 'left',
        },
      },
    },
    scales: {
      x: xScale(82, true),
      y: yScale(-0.8, 16.8, countTicks, v => String(v)),
    },
  },
});
</script>
</body>
</html>
